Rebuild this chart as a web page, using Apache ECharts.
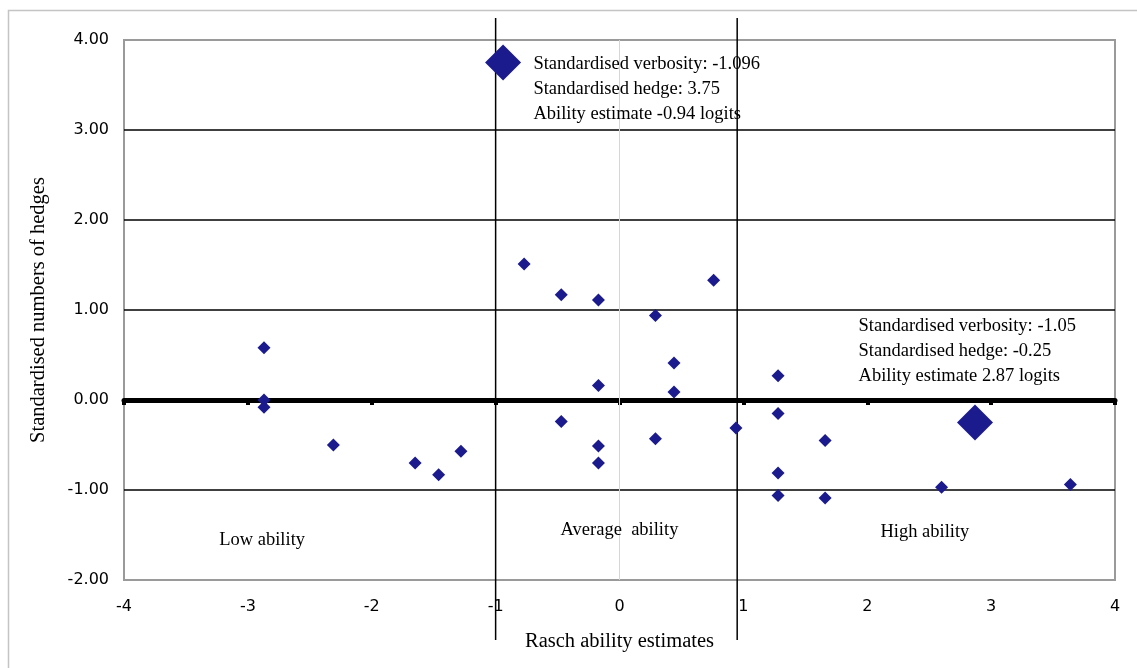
<!DOCTYPE html>
<html>
<head>
<meta charset="utf-8">
<title>Hedges vs Rasch ability</title>
<script src="https://cdn.jsdelivr.net/npm/echarts@6/dist/echarts.min.js"></script>
<style>
  html, body { margin: 0; padding: 0; background: #fff; }
  #chart { width: 1137px; height: 668px; }
</style>
</head>
<body>
<div id="chart"></div>
<script>
// Rasch ability estimates (logits) and standardised hedge counts per learner
const abilityX = [-2.87, -2.87, -2.87, -2.31, -1.65, -1.46, -1.28, -0.77, -0.47, -0.47,
                  -0.17, -0.17, -0.17, -0.17, 0.29, 0.29, 0.44, 0.44, 0.76, 0.94,
                  1.28, 1.28, 1.28, 1.28, 1.66, 1.66, 2.60, 3.64];
const hedgesY = [0.58, 0.00, -0.08, -0.50, -0.70, -0.83, -0.57, 1.51, 1.17, -0.24,
                 1.11, 0.16, -0.51, -0.70, 0.94, -0.43, 0.41, 0.09, 1.33, -0.31,
                 0.27, -0.15, -0.81, -1.06, -0.45, -1.09, -0.97, -0.94];

// Two highlighted learners
const highlightX = [-0.94, 2.87];
const highlightY = [3.75, -0.25];

// Ability band boundaries (logits)
const bandBounds = [-1, 0.95];

// Axis ranges and ticks
const xTicks = [-4, -3, -2, -1, 0, 1, 2, 3, 4];
const yTicks = [-2, -1, 0, 1, 2, 3, 4];

// Annotation texts and their anchors in data space
const noteTexts = [
  'Standardised verbosity: -1.096\nStandardised hedge: 3.75\nAbility estimate -0.94 logits',
  'Standardised verbosity: -1.05\nStandardised hedge: -0.25\nAbility estimate 2.87 logits'
];
const noteX = [-0.695, 1.93];
const noteY = [3.872, 0.961];

const bandNames = ['Low ability', 'Average  ability', 'High ability'];
const bandNameX = [-2.885, 0.0, 2.465];
const bandNameY = [-1.556, -1.444, -1.467];

const MARK = '#1b1b8e';
const SERIF = '"Liberation Serif", "Times New Roman", serif';
const SANS = '"DejaVu Sans", Verdana, sans-serif';

const points = abilityX.map((x, i) => [x, hedgesY[i]]);
const bigPoints = highlightX.map((x, i) => [x, highlightY[i]]);

const chart = echarts.init(document.getElementById('chart'), null, { renderer: 'canvas' });

const splitColors = yTicks.map((v, i) => (i === 0 || i === yTicks.length - 1) ? 'rgba(0,0,0,0)' : '#000');

const option = {
  backgroundColor: '#fff',
  animation: false,
  graphic: [{
    type: 'rect',
    shape: { x: 8.5, y: 10.5, width: 1300, height: 800 },
    style: { fill: 'none', stroke: '#c4c4c4', lineWidth: 1.5 },
    z: -10
  }],
  grid: {
    left: 124, right: 22, top: 40, bottom: 88,
    show: true, borderColor: '#9a9a9a', borderWidth: 2, backgroundColor: 'transparent'
  },
  xAxis: [{
    type: 'value', min: xTicks[0], max: xTicks[xTicks.length - 1], interval: 1,
    position: 'bottom',
    axisLine: { show: false, onZero: false },
    axisTick: { show: false },
    splitLine: { show: false },
    axisLabel: { color: '#000', fontFamily: SANS, fontSize: 16, margin: 19 },
    name: 'Rasch ability estimates', nameLocation: 'middle', nameGap: 51,
    nameTextStyle: { color: '#000', fontFamily: SERIF, fontSize: 20.5 }
  }, {
    type: 'value', min: xTicks[0], max: xTicks[xTicks.length - 1], interval: 1,
    position: 'top',
    axisLine: { show: true, onZero: true, lineStyle: { color: '#000', width: 5 } },
    axisTick: { show: true, inside: true, length: 5, lineStyle: { color: '#000', width: 4 } },
    axisLabel: { show: false },
    splitLine: { show: false }
  }],
  yAxis: {
    type: 'value', min: yTicks[0], max: yTicks[yTicks.length - 1], interval: 1,
    axisLine: { show: false, onZero: false },
    axisTick: { show: false },
    axisLabel: { color: '#000', fontFamily: SANS, fontSize: 16, margin: 15,
                 padding: [3, 0, 0, 0], formatter: v => v.toFixed(2) },
    splitLine: { show: true, showMinLine: true, showMaxLine: true,
                 lineStyle: { color: splitColors, width: 1.5 } },
    name: 'Standardised numbers of hedges', nameLocation: 'middle', nameGap: 75,
    nameTextStyle: { color: '#000', fontFamily: SERIF, fontSize: 20.5 }
  },
  series: [
    {
      // light centre line at zero ability
      type: 'line', xAxisIndex: 0, symbol: 'none', silent: true, z: 1,
      data: [[0, yTicks[0]], [0, yTicks[yTicks.length - 1]]],
      lineStyle: { color: '#d6d6d6', width: 1 }
    },
    ...bandBounds.map(b => ({
      type: 'line', xAxisIndex: 0, symbol: 'none', silent: true, clip: false, z: 4,
      data: [[b, 4.244], [b, -2.667]],
      lineStyle: { color: '#000', width: 1.5 }
    })),
    {
      type: 'scatter', xAxisIndex: 0, symbol: 'diamond', symbolSize: 13, z: 6,
      itemStyle: { color: MARK, opacity: 1 },
      data: points
    },
    {
      type: 'scatter', xAxisIndex: 0, symbol: 'diamond', symbolSize: 36, z: 6,
      itemStyle: { color: MARK, opacity: 1 },
      data: bigPoints
    },
    {
      type: 'scatter', xAxisIndex: 0, symbolSize: 0, silent: true, z: 5,
      itemStyle: { opacity: 1 },
      data: noteTexts.map((t, i) => ({ name: t, value: [noteX[i], noteY[i]] })),
      label: {
        show: true, formatter: '{b}', position: [0, 0], align: 'left', verticalAlign: 'top',
        color: '#000', opacity: 1, fontFamily: SERIF, fontSize: 18.5, lineHeight: 25
      }
    },
    {
      type: 'scatter', xAxisIndex: 0, symbolSize: 0, silent: true, z: 5,
      itemStyle: { opacity: 1 },
      data: bandNames.map((t, i) => ({ name: t, value: [bandNameX[i], bandNameY[i]] })),
      label: {
        show: true, formatter: '{b}', position: [0, 0], align: 'center', verticalAlign: 'middle',
        color: '#000', opacity: 1, fontFamily: SERIF, fontSize: 18.5
      }
    }
  ]
};

chart.setOption(option);
</script>
</body>
</html>
